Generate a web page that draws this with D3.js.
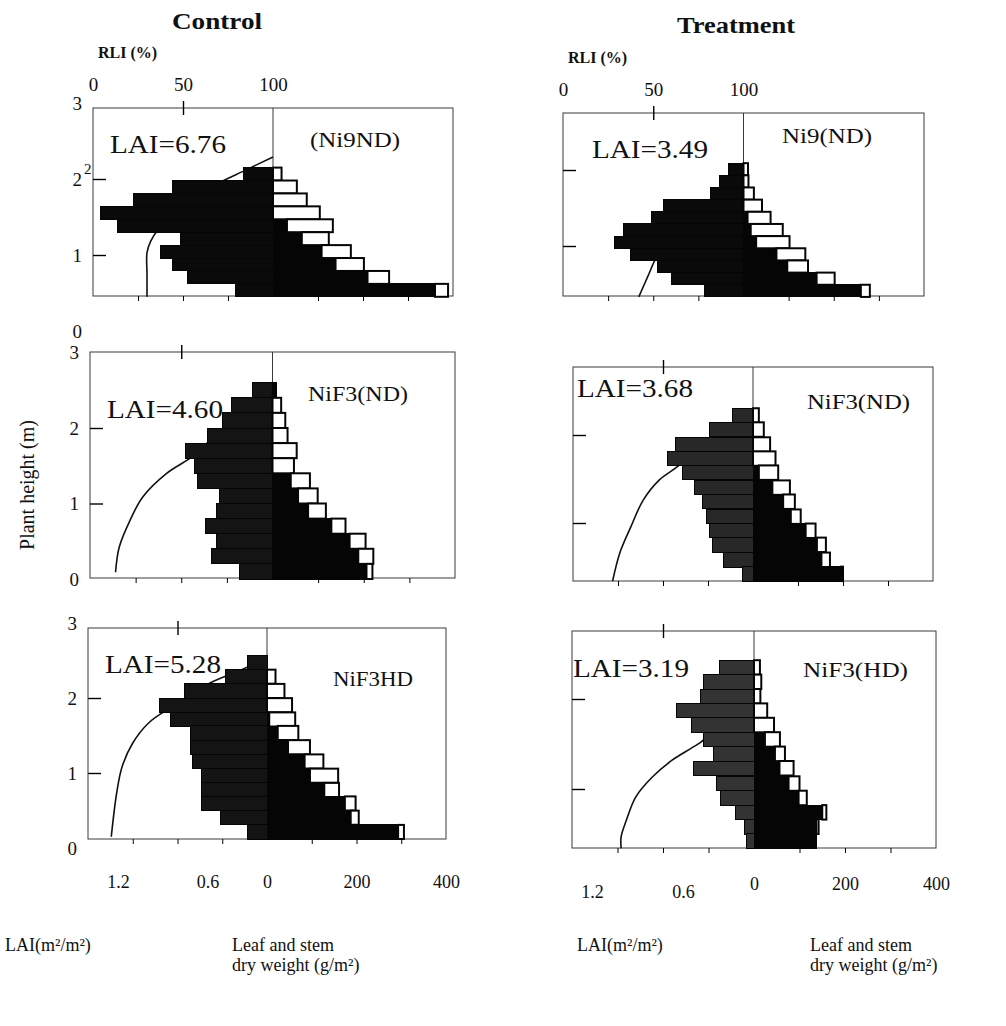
<!DOCTYPE html>
<html>
<head>
<meta charset="utf-8">
<script src="https://cdn.jsdelivr.net/npm/d3@7"></script>
<style>
  body { margin: 0; background: #fff; }
  text { font-family: "Liberation Serif", "DejaVu Serif", serif; fill: #111; }
</style>
</head>
<body>
<svg id="chart" width="1006" height="1026"></svg>
<script>
// panels: Control Ni9ND, Treatment Ni9(ND), Control NiF3(ND), Treatment NiF3(ND), Control NiF3HD, Treatment NiF3(HD)
const panelNames = ["(Ni9ND)", "Ni9(ND)", "NiF3(ND)", "NiF3(ND)", "NiF3HD", "NiF3(HD)"];
const laiTotals = ["6.76", "3.49", "4.60", "3.68", "5.28", "3.19"];
const columnTitles = ["Control", "Treatment"];

// bottom of each height layer (m), top layer first
const layerBottoms = [
  [1.98, 1.81, 1.64, 1.47, 1.30, 1.13, 0.96, 0.79, 0.62, 0.45],
  [1.93, 1.77, 1.61, 1.45, 1.29, 1.13, 0.97, 0.81, 0.65, 0.49, 0.33],
  [2.4, 2.2, 2.0, 1.8, 1.6, 1.4, 1.2, 1.0, 0.8, 0.6, 0.4, 0.2, 0],
  [2.14, 1.98, 1.81, 1.65, 1.49, 1.32, 1.16, 0.99, 0.83, 0.67, 0.50, 0.34],
  [2.38, 2.19, 2.00, 1.81, 1.62, 1.44, 1.25, 1.06, 0.87, 0.68, 0.50, 0.31, 0.12],
  [2.27, 2.11, 1.95, 1.79, 1.63, 1.47, 1.31, 1.15, 0.98, 0.82, 0.66, 0.50, 0.34]
];
const layerDepth = [0.17, 0.16, 0.2, 0.164, 0.188, 0.161];

// leaf area index of each layer (left bars)
const laiLayers = [
  [0.20, 0.67, 0.93, 1.15, 1.04, 0.62, 0.75, 0.67, 0.57, 0.25],
  [0.10, 0.16, 0.22, 0.53, 0.61, 0.80, 0.86, 0.75, 0.57, 0.48, 0.26],
  [0.13, 0.27, 0.33, 0.43, 0.57, 0.51, 0.49, 0.35, 0.37, 0.44, 0.37, 0.40, 0.22],
  [0.14, 0.29, 0.52, 0.57, 0.47, 0.39, 0.34, 0.31, 0.29, 0.27, 0.20, 0.07],
  [0.13, 0.28, 0.55, 0.72, 0.65, 0.51, 0.51, 0.50, 0.44, 0.44, 0.44, 0.31, 0.13],
  [0.23, 0.33, 0.35, 0.51, 0.41, 0.33, 0.27, 0.40, 0.25, 0.22, 0.12, 0.06, 0.05]
];

// stem (black) and leaf (white) dry weight, g/m2 (right bars)
const stemWeight = [
  [0, 0, 0, 0, 31, 64, 108, 139, 210, 360],
  [0, 0, 0, 0, 9, 16, 28, 73, 97, 162, 260],
  [8, 0, 0, 0, 0, 0, 40, 56, 78, 129, 169, 188, 206],
  [0, 0, 0, 0, 13, 43, 67, 84, 117, 142, 152, 196],
  [0, 0, 0, 0, 5, 24, 47, 84, 96, 128, 174, 187, 293],
  [0, 0, 0, 0, 0, 24, 46, 56, 76, 98, 150, 137, 137]
];
const leafWeight = [
  [19, 53, 75, 104, 102, 60, 65, 63, 48, 29],
  [10, 11, 23, 41, 51, 71, 74, 64, 46, 40, 20],
  [0, 19, 28, 33, 53, 47, 42, 43, 39, 31, 35, 33, 13],
  [13, 24, 38, 50, 43, 39, 26, 22, 22, 20, 19, 4],
  [0, 19, 39, 56, 58, 46, 49, 42, 63, 33, 24, 18, 13],
  [13, 16, 14, 29, 44, 33, 22, 31, 24, 18, 9, 5, 0]
];

// relative light intensity profile: height (m) and RLI (%)
const rliHeight = [
  [2.29, 2.12, 1.9, 1.6, 1.33, 1.18, 1.03, 0.75, 0.45],
  [2.09, 1.95, 1.75, 1.5, 1.2, 0.86, 0.6, 0.33],
  [2.6, 2.3, 2.0, 1.8, 1.62, 1.40, 1.09, 0.78, 0.42, 0.09],
  [2.30, 2.05, 1.85, 1.64, 1.49, 1.26, 0.95, 0.66, 0.34],
  [2.56, 2.4, 2.21, 2.0, 1.84, 1.67, 1.40, 1.08, 0.73, 0.15],
  [2.43, 2.1, 1.8, 1.54, 1.46, 1.32, 1.13, 0.91, 0.66, 0.47, 0.34]
];
const rliValue = [
  [100, 85, 66, 47, 36, 32, 30, 30, 30],
  [100, 97, 91, 77, 63, 52, 47, 42],
  [100, 90, 76, 64, 56, 42, 29, 22, 16, 14],
  [100, 84, 70, 58, 48, 39, 32, 26, 22],
  [100, 88, 69, 55, 44, 34, 25, 19, 16, 13],
  [100, 90, 81, 72, 66, 55, 44, 35, 30, 27, 27]
];

const heightTicks = [0, 1, 2, 3];
const rliTicks = [0, 50, 100];
const laiTicks = [0.3, 0.6, 0.9];
const weightTicks = [100, 200, 300];
const laiLabels = [1.2, 0.6];
const weightLabels = [0, 200, 400];

// frame boxes and text spots
const panels = [
  {left: 93, right: 453, top: 108, bottom: 296, zeroY: 331, pxPerM: 76, fill: "#0a0a0a",
   lai: [110, 153], name: [310, 147, 90]},
  {left: 563, right: 924, top: 113, bottom: 296, zeroY: 322, pxPerM: 76, fill: "#0a0a0a",
   lai: [592, 158], name: [782, 143, 90]},
  {left: 90, right: 455, top: 352, bottom: 578, zeroY: 579, pxPerM: 75.5, fill: "#141414",
   lai: [107, 418], name: [308, 401, 100]},
  {left: 573, right: 933, top: 367, bottom: 581, zeroY: 611, pxPerM: 88, fill: "#282828",
   lai: [577, 397], name: [807, 409, 103]},
  {left: 88, right: 446, top: 628, bottom: 839, zeroY: 848, pxPerM: 75, fill: "#141414",
   lai: [105, 673], name: [333, 686, 80]},
  {left: 572, right: 936, top: 631, bottom: 848, zeroY: 879, pxPerM: 90, fill: "#333333",
   lai: [573, 677], name: [803, 677, 105]}
];

const svg = d3.select("#chart");

function stripAxis(sel, size) {
  sel.select(".domain").remove();
  sel.attr("font-family", null).attr("font-size", null);
  sel.selectAll("text").style("font-size", size + "px");
}

panels.forEach((p, i) => {
  const g = svg.append("g");
  const cx = (p.left + p.right) / 2;
  const control = i % 2 === 0;

  const laiX = d3.scaleLinear().domain([0, 1.2]).range([cx, p.left]);
  const wX = d3.scaleLinear().domain([0, 400]).range([cx, p.right]);
  const rliX = d3.scaleLinear().domain([0, 100]).range([p.left, cx]);
  const y = d3.scaleLinear().domain([0, 3]).range([p.zeroY, p.zeroY - 3 * p.pxPerM]);
  const dz = layerDepth[i];

  const rows = layerBottoms[i].map((h, j) => ({
    h: h, lai: laiLayers[i][j], stem: stemWeight[i][j], leaf: leafWeight[i][j]
  }));

  // frame and zero line
  g.append("rect")
    .attr("x", p.left).attr("y", p.top)
    .attr("width", p.right - p.left).attr("height", p.bottom - p.top)
    .attr("fill", "none").attr("stroke", "#3a3a3a").attr("stroke-width", 1);
  g.append("line")
    .attr("x1", cx).attr("x2", cx).attr("y1", p.top).attr("y2", p.bottom)
    .attr("stroke", "#3a3a3a").attr("stroke-width", 1);

  // light curve (sits under the bars)
  const pts = rliHeight[i].map((h, j) => [h, rliValue[i][j]]);
  const line = d3.line()
    .x(d => rliX(d[1]))
    .y(d => y(d[0]))
    .curve(d3.curveCatmullRom);
  g.append("path").datum(pts)
    .attr("d", line)
    .attr("fill", "none").attr("stroke", "#111").attr("stroke-width", 1.6);

  // LAI bars
  g.selectAll(".lai").data(rows).enter().append("rect")
    .attr("x", d => laiX(d.lai))
    .attr("y", d => y(d.h + dz))
    .attr("width", d => cx - laiX(d.lai))
    .attr("height", d => y(d.h) - y(d.h + dz))
    .attr("shape-rendering", "crispEdges")
    .attr("fill", p.fill).attr("stroke", "#050505").attr("stroke-width", 1);

  // stem weight
  g.selectAll(".stem").data(rows.filter(d => d.stem > 0)).enter().append("rect")
    .attr("x", cx)
    .attr("y", d => y(d.h + dz))
    .attr("width", d => wX(d.stem) - cx)
    .attr("height", d => y(d.h) - y(d.h + dz))
    .attr("shape-rendering", "crispEdges")
    .attr("fill", "#050505").attr("stroke", "#050505").attr("stroke-width", 1);

  // leaf weight stacked on stem
  g.selectAll(".leaf").data(rows.filter(d => d.leaf > 0)).enter().append("rect")
    .attr("x", d => wX(d.stem))
    .attr("y", d => y(d.h + dz))
    .attr("width", d => wX(d.stem + d.leaf) - wX(d.stem))
    .attr("height", d => y(d.h) - y(d.h + dz))
    .attr("fill", "#fff").attr("stroke", "#050505").attr("stroke-width", 2);

  // height ticks inside the left edge
  g.append("g").attr("transform", `translate(${p.left},0)`)
    .call(d3.axisRight(y).tickValues([1, 2]).tickSize(13).tickFormat(""))
    .call(s => stripAxis(s, 18))
    .selectAll("line").attr("stroke-width", 1.4);

  if (control) {
    g.append("g").attr("transform", `translate(${p.left},0)`)
      .call(d3.axisLeft(y).tickValues(heightTicks).tickSize(0).tickPadding(11).tickFormat(d3.format("d")))
      .call(s => stripAxis(s, 19));
  }

  // RLI 50% tick crossing the top edge
  g.append("g").attr("transform", `translate(0,${p.top + 7})`)
    .call(d3.axisTop(rliX).tickValues([50]).tickSize(14).tickFormat(""))
    .call(s => stripAxis(s, 18))
    .selectAll("line").attr("stroke-width", 1.4);

  if (i < 2) {
    g.append("g").attr("transform", `translate(0,${p.top - 17})`)
      .call(d3.axisTop(rliX).tickValues(rliTicks).tickSize(0).tickPadding(0))
      .call(s => stripAxis(s, 19));
    g.append("text")
      .attr("x", p.left + 5).attr("y", p.top - 50)
      .attr("font-weight", "bold").style("font-size", "16px")
      .text("RLI (%)");
  }

  // bottom ticks
  g.append("g").attr("transform", `translate(0,${p.bottom})`)
    .call(d3.axisBottom(laiX).tickValues(laiTicks).tickSize(5).tickFormat(""))
    .call(s => stripAxis(s, 18));
  g.append("g").attr("transform", `translate(0,${p.bottom})`)
    .call(d3.axisBottom(wX).tickValues(weightTicks).tickSize(5).tickFormat(""))
    .call(s => stripAxis(s, 18));

  if (i >= 4) {
    const pad = control ? 36 : 29;
    g.append("g").attr("transform", `translate(${control ? 30 : 20},${p.bottom})`)
      .call(d3.axisBottom(laiX).tickValues(laiLabels).tickSize(0).tickPadding(control ? pad : pad + 8).tickFormat(d3.format(".1f")))
      .call(s => stripAxis(s, 18));
    g.append("g").attr("transform", `translate(0,${p.bottom})`)
      .call(d3.axisBottom(wX).tickValues(weightLabels).tickSize(0).tickPadding(pad).tickFormat(d3.format("d")))
      .call(s => stripAxis(s, 18));
  }

  // in-panel labels
  g.append("text")
    .attr("x", p.lai[0]).attr("y", p.lai[1])
    .attr("textLength", 116).attr("lengthAdjust", "spacingAndGlyphs")
    .style("font-size", "26px")
    .text("LAI=" + laiTotals[i]);
  g.append("text")
    .attr("x", p.name[0]).attr("y", p.name[1])
    .attr("textLength", p.name[2]).attr("lengthAdjust", "spacingAndGlyphs")
    .style("font-size", "21px")
    .text(panelNames[i]);
});

// stray superscript next to the "2" of the first panel, as printed
svg.append("text").attr("x", 84).attr("y", 174).style("font-size", "15px").text("2");

// column titles
svg.selectAll(".title").data(columnTitles).enter().append("text")
  .attr("x", (d, i) => i === 0 ? 172 : 677)
  .attr("y", (d, i) => i === 0 ? 29 : 33)
  .attr("textLength", (d, i) => i === 0 ? 90 : 118)
  .attr("lengthAdjust", "spacingAndGlyphs")
  .attr("font-weight", "bold")
  .style("font-size", "24px")
  .text(d => d);

// y title
svg.append("text")
  .attr("transform", "translate(34,485) rotate(-90)")
  .attr("text-anchor", "middle")
  .style("font-size", "20px")
  .text("Plant height (m)");

// bottom captions
[0, 1].forEach(c => {
  const lx = c === 0 ? 5 : 577;
  const wx = c === 0 ? 232 : 810;
  svg.append("text").attr("x", lx).attr("y", 951).style("font-size", "18px").text("LAI(m²/m²)");
  svg.append("text").attr("x", wx).attr("y", 951).style("font-size", "18px").text("Leaf and stem");
  svg.append("text").attr("x", wx).attr("y", 971).style("font-size", "18px").text("dry weight (g/m²)");
});
</script>
</body>
</html>
